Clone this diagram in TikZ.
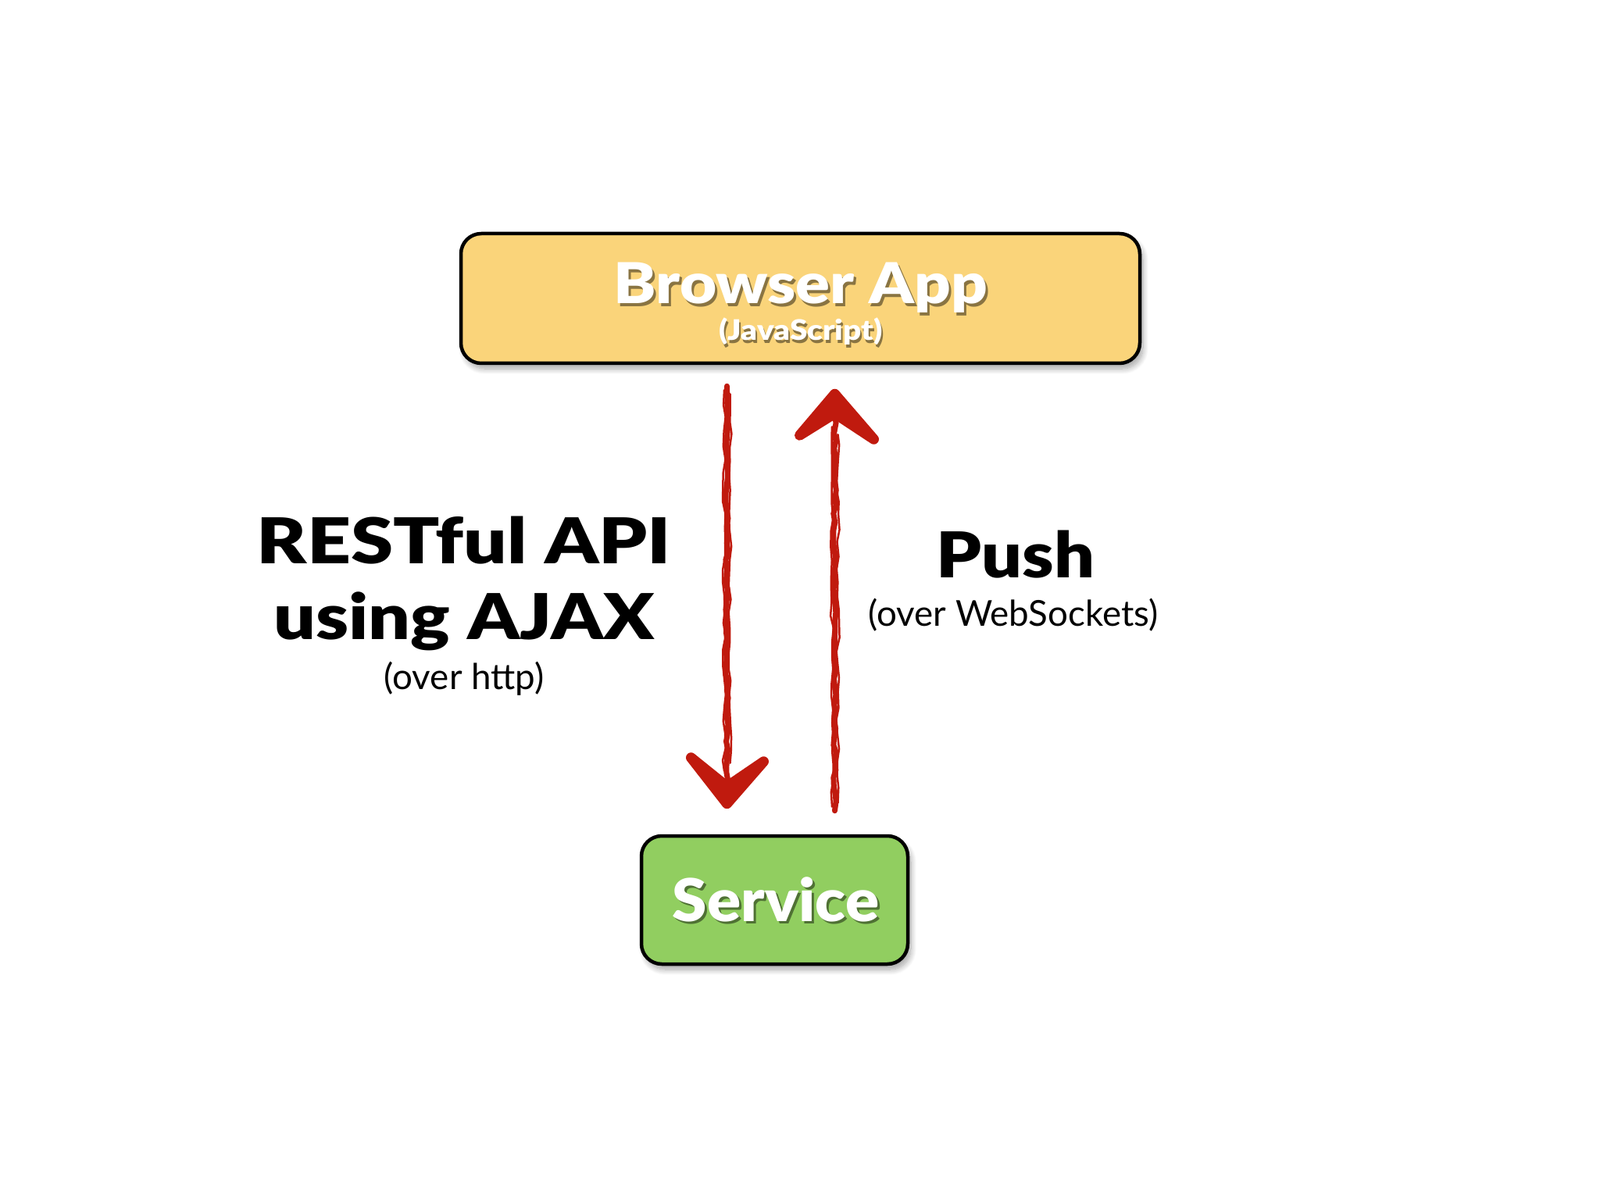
\documentclass[tikz,border=0pt]{standalone}
\usepackage{fontspec}
\usepackage{graphicx}
\setmainfont{Lato}
\newfontfamily\heavyfont{Lato Black}
\usetikzlibrary{calc,shadows.blur,decorations.pathmorphing}
\definecolor{boxyellow}{RGB}{250,212,122}
\definecolor{boxgreen}{RGB}{145,206,96}
\definecolor{arrowred}{RGB}{192,26,14}
\tikzset{
  appbox/.style={draw=black, line width=0.045cm, rounded corners=0.26cm,
    blur shadow={shadow xshift=0.04cm, shadow yshift=-0.07cm, shadow blur steps=10, shadow opacity=35}},
  boxtext/.style={text=white, anchor=base, inner sep=0pt},
  boxshade/.style={text=black, opacity=0.45, anchor=base, inner sep=0pt},
  lbl/.style={text=black, anchor=base, inner sep=0pt},
  shaft/.style={draw=arrowred, line width=0.07cm, line cap=round,
    decorate, decoration={random steps, segment length=3pt, amplitude=0.5pt}},
  shaftthin/.style={draw=arrowred, line width=0.025cm, line cap=round,
    decorate, decoration={random steps, segment length=5pt, amplitude=0.6pt}},
  headstroke/.style={draw=arrowred, fill=arrowred, line width=0.13cm, line cap=round, line join=round},
}
\newcommand{\bigtitle}[2]{\scalebox{#1}[1]{\heavyfont\fontsize{23}{27}\selectfont #2}}
\begin{document}
\begin{tikzpicture}
\useasboundingbox (0,0) rectangle (20.48,-15.36);
% boxes
\node[appbox, fill=boxyellow, minimum width=8.69cm, minimum height=1.66cm] (browser) at (10.245,-3.82) {};
\node[appbox, fill=boxgreen, minimum width=3.41cm, minimum height=1.64cm] (service) at (9.915,-11.52) {};
% box texts with shadow
\node[boxshade] (btitleS) at (10.28,-3.925) {\scalebox{1.13}[1]{\heavyfont\fontsize{20.5}{24}\selectfont Browser App}};
\node[boxtext] (btitle) at (10.25,-3.89) {\scalebox{1.13}[1]{\heavyfont\fontsize{20.5}{24}\selectfont Browser App}};
\node[boxshade] (bsubS) at (10.27,-4.395) {\scalebox{1.12}[1]{\heavyfont\fontsize{10.3}{12}\selectfont (JavaScript)}};
\node[boxtext] (bsub) at (10.25,-4.36) {\scalebox{1.12}[1]{\heavyfont\fontsize{10.3}{12}\selectfont (JavaScript)}};
\node[boxshade] (stitleS) at (9.96,-11.825) {\scalebox{1.06}[1]{\heavyfont\fontsize{21.5}{25}\selectfont Service}};
\node[boxtext] (stitle) at (9.93,-11.79) {\scalebox{1.06}[1]{\heavyfont\fontsize{21.5}{25}\selectfont Service}};
% labels
\node[lbl] (rest1) at (5.94,-7.22) {\bigtitle{1.21}{RESTful API}};
\node[lbl] (rest2) at (5.94,-8.19) {\bigtitle{1.17}{using AJAX}};
\node[lbl] (rest3) at (5.94,-8.83) {\fontsize{13}{16}\selectfont (over http)};
\node[lbl] (push1) at (13.0,-7.39) {\bigtitle{1.13}{Push}};
\node[lbl] (push2) at (12.97,-8.01) {\fontsize{13}{16}\selectfont (over WebSockets)};
% arrow endpoints
\coordinate (d1) at ([xshift=-0.94cm,yshift=-0.27cm]browser.south);
\coordinate (d2) at ([xshift=-0.61cm,yshift=0.31cm]service.north);
\coordinate (u1) at ([xshift=0.77cm,yshift=0.30cm]service.north);
\coordinate (u2) at ([xshift=0.44cm,yshift=-0.29cm]browser.south);
% request arrow (down)
\draw[shaft] (d1) -- ($(d2)+(0,0.15)$);
\draw[shaftthin] ($(d1)+(-0.035,-0.05)$) -- ($(d2)+(-0.035,0.5)$);
\draw[shaftthin] ($(d1)+(0.04,-0.1)$) -- ($(d2)+(0.04,0.6)$);
\draw[headstroke] ($(d2)+(-0.46,0.67)$) -- ($(d2)+(0,0.08)$) -- ($(d2)+(0.47,0.62)$) -- ($(d2)+(0,0.3)$) -- cycle;
% push arrow (up)
\draw[shaft] (u1) -- ($(u2)+(0,-0.15)$);
\draw[shaftthin] ($(u1)+(-0.035,0.05)$) -- ($(u2)+(-0.035,-0.5)$);
\draw[shaftthin] ($(u1)+(0.04,0.1)$) -- ($(u2)+(0.04,-0.6)$);
\draw[headstroke] ($(u2)+(-0.45,-0.61)$) -- ($(u2)+(0,-0.08)$) -- ($(u2)+(0.5,-0.66)$) -- ($(u2)+(0,-0.33)$) -- cycle;
\end{tikzpicture}
\end{document}
